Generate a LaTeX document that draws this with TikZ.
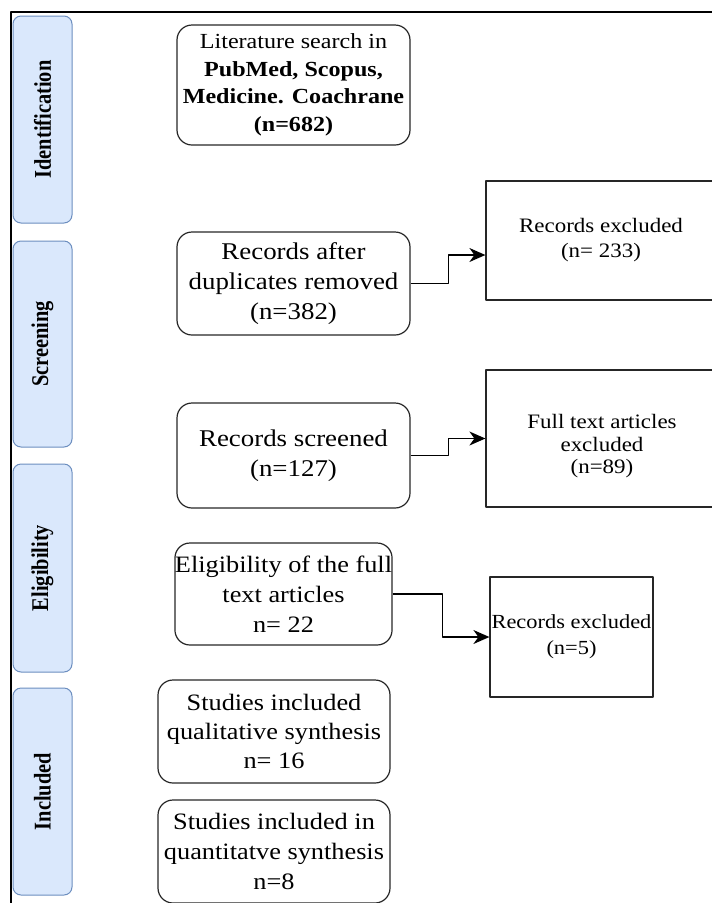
\documentclass[tikz,border=0pt]{standalone}
\usepackage{fontspec}
\setmainfont{Liberation Serif}[FakeStretch=1.12]
\newfontfamily\lanefont{Liberation Serif}[FakeStretch=0.85]
\usetikzlibrary{arrows.meta}
\definecolor{lanefill}{HTML}{DAE8FC}
\definecolor{laneline}{HTML}{6C8EBF}
\begin{document}
\begin{tikzpicture}[x=1pt, y=-1pt, line join=round,
  lane/.style={draw=laneline, fill=lanefill, rounded corners=8pt, line width=1pt, rotate=90, minimum height=59pt, inner sep=0pt, font=\lanefont\bfseries\fontsize{24}{28}\selectfont},
  rbox/.style={draw=black!85, rounded corners=15pt, line width=1.2pt, align=center, inner sep=0pt},
  sbox/.style={draw=black!85, line width=1.2pt, align=center, inner sep=0pt},
  big/.style={font=\fontsize{24}{30}\selectfont},
  small/.style={font=\fontsize{20.5}{25}\selectfont},
  arr/.style={-{Stealth[length=16pt,width=14pt,inset=5pt]}, line width=1.3pt}]
\useasboundingbox (0,0) rectangle (712,903);
\draw[line width=2pt] (11,904) -- (11,12) -- (713,12);
\node[lane, minimum width=207pt] (ident) at (42.5,119.5) {Identification};
\node[lane, minimum width=206pt] (screen) at (42.5,344) {Screening};
\node[lane, minimum width=208pt] (elig) at (42.5,568) {Eligibility};
\node[lane, minimum width=207pt] (incl) at (42.5,791.5) {Included};
\node[rbox, minimum width=233pt, minimum height=120pt, font=\fontsize{21.5}{27.5}\selectfont] (search) at (293.5,85) {Literature search in\\ \textbf{PubMed, Scopus,}\\ \textbf{Medicine. Coachrane}\\ \textbf{(n=682)}};
\node[rbox, big, minimum width=233pt, minimum height=103pt] (dup) at (293.5,283.5) {Records after\\ duplicates removed\\ (n=382)};
\node[rbox, big, minimum width=233pt, minimum height=105pt] (screened) at (293.5,455.5) {Records screened\\ (n=127)};
\node[rbox, font=\fontsize{23.5}{30}\selectfont, minimum width=217pt, minimum height=102pt] (full) at (283.5,594) {Eligibility of the full\\ text articles\\ n= 22};
\node[rbox, font=\fontsize{23.5}{29}\selectfont, minimum width=232pt, minimum height=103pt] (qual) at (274,731.5) {Studies included\\ qualitative synthesis\\ n= 16};
\node[rbox, font=\fontsize{23.5}{30}\selectfont, minimum width=232pt, minimum height=103pt] (quant) at (274,851.5) {Studies included in\\ quantitatve synthesis\\ n=8};
\node[sbox, small, minimum width=230pt, minimum height=119pt] (exA) at (601,240.5) {Records excluded\\ (n= 233)};
\node[sbox, font=\fontsize{20.5}{22.5}\selectfont, minimum width=232pt, minimum height=137pt] (exB) at (602,438.5) {\rule{0pt}{30pt}Full text articles\\ excluded\\ (n=89)};
\node[sbox, font=\fontsize{20}{26}\selectfont, minimum width=163pt, minimum height=120pt] (exC) at (571.5,637) {Records excluded\\ (n=5)};
\draw[arr] (dup.east) -- ++(38,0) |- ([yshift=-14.5pt]exA.west);
\draw[arr] (screened.east) -- ++(38,0) |- (exB.west);
\draw[arr] (full.east) -- ++(50,0) |- (exC.west);
\end{tikzpicture}
\end{document}
